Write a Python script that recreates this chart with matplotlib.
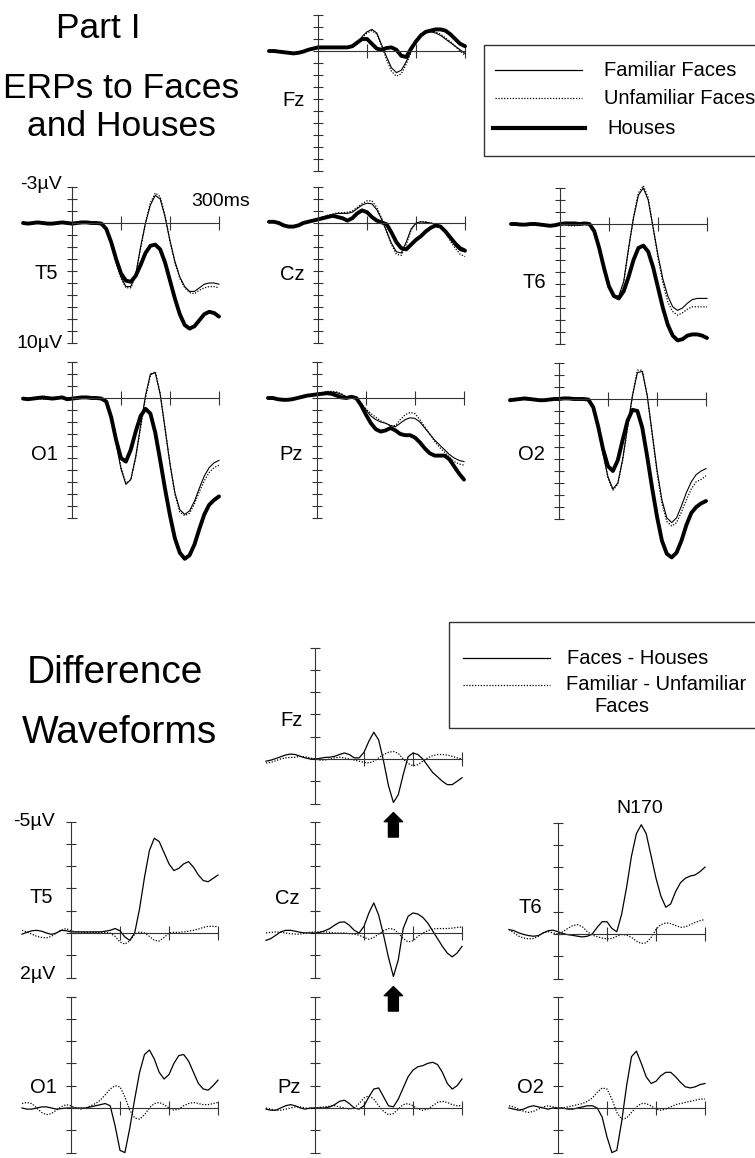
import numpy as np
import matplotlib.pyplot as plt
from matplotlib.patches import Rectangle

plt.rcParams['font.family'] = ['Liberation Sans', 'DejaVu Sans']

# sample times (ms), one value every 10 ms
times = np.arange(-100, 301, 10)

# ---- Part I : ERPs (microvolts, negative up) ----
fz_fam = [0.0, 0.0, 0.05, 0.1, 0.15, 0.15, 0.1, 0.0, -0.1, -0.2, -0.25, -0.25, -0.3, -0.3, -0.3, -0.3, -0.3,
          -0.3, -0.6, -1.2, -1.6, -1.8, -1.5, -0.5, 0.5, 1.4, 1.8, 1.6, 0.9, 0.0, -0.8, -1.3, -1.6, -1.6, -1.5,
          -1.3, -1.0, -0.7, -0.4, -0.1, 0.2]
fz_unf = [0.05, 0.0, 0.05, 0.1, 0.2, 0.15, 0.1, 0.0, -0.1, -0.2, -0.25, -0.3, -0.3, -0.35, -0.3, -0.3, -0.3,
          -0.3, -0.6, -1.1, -1.5, -1.7, -1.4, -0.4, 0.7, 1.7, 2.1, 1.9, 1.1, 0.1, -0.8, -1.4, -1.7, -1.7, -1.6,
          -1.4, -1.1, -0.8, -0.4, 0.0, 0.35]
fz_hou = [0.0, 0.0, 0.05, 0.1, 0.15, 0.2, 0.15, 0.05, -0.1, -0.2, -0.3, -0.3, -0.3, -0.3, -0.3, -0.3, -0.3,
          -0.4, -0.7, -1.0, -1.0, -0.6, -0.2, -0.1, -0.25, -0.3, -0.1, 0.4, 0.5, -0.2, -0.8, -1.3, -1.6, -1.7,
          -1.8, -1.8, -1.7, -1.4, -1.0, -0.6, -0.4]

t5_fam = [0.0, 0.0, 0.05, 0.0, 0.0, 0.0, 0.05, 0.05, 0.0, 0.0, 0.05, 0.0, 0.0, 0.0, 0.05, 0.0, 0.05,
          0.5, 1.7, 3.2, 4.5, 5.3, 5.3, 4.3, 2.0, 0.0, -1.5, -2.3, -2.0, -0.5, 1.5, 3.2, 4.5, 5.3, 5.7, 5.7,
          5.4, 5.1, 5.0, 5.0, 5.1]
t5_unf = [0.05, 0.0, 0.0, 0.05, 0.0, -0.05, 0.0, 0.05, 0.0, 0.05, 0.05, 0.0, 0.05, 0.0, 0.0, 0.05, 0.05,
          0.5, 1.7, 3.3, 4.6, 5.4, 5.4, 4.4, 2.1, 0.0, -1.7, -2.5, -2.2, -0.6, 1.5, 3.3, 4.6, 5.4, 5.8, 5.9,
          5.6, 5.4, 5.3, 5.3, 5.4]
t5_hou = [0.0, 0.05, 0.0, -0.05, 0.0, 0.05, 0.05, 0.0, -0.05, 0.0, 0.05, 0.0, -0.05, -0.05, 0.0, 0.0, 0.05,
          0.5, 1.6, 3.0, 4.2, 4.8, 4.9, 4.4, 3.5, 2.5, 1.9, 1.8, 2.2, 3.3, 4.8, 6.3, 7.6, 8.5, 8.8, 8.6,
          8.1, 7.6, 7.4, 7.5, 7.8]

cz_fam = [-0.1, -0.05, 0.05, 0.2, 0.3, 0.25, 0.15, 0.0, -0.1, -0.2, -0.3, -0.5, -0.6, -0.7, -0.8, -0.8, -0.8,
          -0.9, -1.2, -1.5, -1.65, -1.6, -1.1, -0.3, 0.7, 1.7, 2.4, 2.5, 1.6, 0.5, 0.0, -0.1, -0.05, 0.0, 0.1,
          0.3, 0.7, 1.3, 1.9, 2.3, 2.4]
cz_unf = [-0.05, -0.05, 0.05, 0.2, 0.3, 0.3, 0.2, 0.05, -0.1, -0.2, -0.35, -0.5, -0.65, -0.75, -0.85, -0.85,
          -0.9, -1.0, -1.3, -1.6, -1.85, -1.85, -1.3, -0.4, 0.7, 1.8, 2.6, 2.7, 1.8, 0.6, 0.0, -0.1, -0.1, 0.0,
          0.1, 0.3, 0.8, 1.5, 2.1, 2.6, 2.8]
cz_hou = [-0.1, -0.1, 0.0, 0.2, 0.3, 0.3, 0.2, 0.0, -0.1, -0.2, -0.3, -0.4, -0.5, -0.6, -0.5, -0.4, -0.2,
          -0.4, -0.8, -1.05, -0.9, -0.5, -0.2, -0.05, 0.1, 0.8, 1.6, 2.1, 2.2, 1.8, 1.4, 1.1, 0.7, 0.4, 0.2,
          0.3, 0.7, 1.2, 1.7, 2.1, 2.3]

t6_fam = [0.0, 0.0, 0.0, 0.05, 0.05, 0.0, 0.05, 0.1, 0.1, 0.05, 0.0, 0.05, 0.1, 0.1, 0.05, 0.0, 0.0,
          0.6, 2.0, 3.7, 5.2, 6.0, 6.0, 4.8, 2.0, -0.5, -2.4, -3.0, -2.0, 0.3, 2.6, 4.6, 6.0, 6.9, 7.2, 7.0,
          6.6, 6.3, 6.2, 6.2, 6.2]
t6_unf = [0.05, 0.0, 0.0, 0.0, 0.05, 0.05, 0.1, 0.15, 0.2, 0.15, 0.05, 0.1, 0.15, 0.15, 0.1, 0.05, 0.0,
          0.6, 2.0, 3.7, 5.2, 6.0, 6.1, 4.9, 2.1, -0.6, -2.6, -3.2, -2.2, 0.3, 2.8, 4.9, 6.5, 7.3, 7.6, 7.4,
          7.1, 6.9, 6.9, 6.9, 6.9]
t6_hou = [0.0, 0.0, 0.05, 0.05, 0.0, 0.0, 0.05, 0.1, 0.15, 0.1, 0.0, -0.05, -0.05, -0.05, 0.0, -0.05, 0.0,
          0.6, 2.0, 3.7, 5.2, 6.0, 6.2, 5.6, 4.4, 3.0, 2.0, 1.8, 2.3, 3.6, 5.3, 7.0, 8.4, 9.3, 9.7, 9.6,
          9.3, 9.2, 9.2, 9.3, 9.5]

o1_fam = [0.0, 0.05, 0.0, 0.0, 0.05, 0.1, 0.05, 0.0, 0.0, 0.1, 0.05, 0.0, 0.0, 0.0, 0.05, 0.0, 0.05,
          0.3, 1.7, 3.8, 5.9, 7.2, 6.8, 4.9, 2.3, -0.2, -2.0, -2.1, -0.3, 2.6, 5.5, 7.9, 9.3, 9.7, 9.4, 8.6,
          7.5, 6.5, 5.8, 5.4, 5.2]
o1_unf = [0.0, 0.0, 0.05, 0.05, 0.1, 0.1, 0.05, 0.05, 0.0, 0.05, 0.05, 0.05, 0.0, 0.0, 0.0, 0.05, 0.05,
          0.3, 1.7, 3.7, 5.8, 7.1, 6.8, 5.0, 2.5, 0.0, -1.9, -2.2, -0.4, 2.5, 5.5, 8.0, 9.5, 9.8, 9.6, 8.8,
          7.8, 6.9, 6.2, 5.8, 5.6]
o1_hou = [0.05, 0.1, 0.05, 0.0, -0.05, 0.0, 0.05, 0.0, -0.05, 0.1, 0.05, 0.0, -0.05, -0.05, 0.0, 0.0, 0.05,
          0.3, 1.6, 3.5, 5.0, 5.3, 4.3, 2.8, 1.5, 0.9, 1.3, 2.9, 5.2, 7.6, 9.8, 11.7, 12.9, 13.4, 13.1, 12.2,
          10.9, 9.7, 8.9, 8.5, 8.2]

pz_fam = [0.0, 0.05, 0.1, 0.15, 0.1, 0.05, 0.0, -0.1, -0.2, -0.3, -0.35, -0.4, -0.5, -0.5, -0.45, -0.3, -0.1,
          -0.1, 0.1, 0.5, 1.0, 1.5, 1.8, 2.0, 2.1, 2.3, 2.4, 2.1, 1.8, 1.65, 1.7, 2.0, 2.5, 3.0, 3.5, 3.9,
          4.3, 4.7, 5.0, 5.2, 5.3]
pz_unf = [0.05, 0.05, 0.1, 0.15, 0.15, 0.05, 0.0, -0.1, -0.2, -0.3, -0.4, -0.45, -0.55, -0.55, -0.5, -0.35,
          -0.1, -0.1, 0.1, 0.4, 0.9, 1.3, 1.6, 1.9, 2.1, 2.3, 2.3, 1.8, 1.4, 1.2, 1.3, 1.8, 2.4, 3.0, 3.6,
          4.1, 4.5, 4.9, 5.3, 5.5, 5.6]
pz_hou = [0.0, 0.0, 0.1, 0.15, 0.15, 0.1, 0.0, -0.1, -0.2, -0.25, -0.3, -0.35, -0.4, -0.35, -0.2, -0.05, 0.0,
          -0.1, 0.0, 0.6, 1.4, 2.1, 2.6, 2.8, 2.7, 2.5, 2.7, 3.0, 3.1, 3.1, 3.3, 3.7, 4.2, 4.6, 4.8, 4.8,
          4.8, 5.1, 5.7, 6.3, 6.8]

o2_fam = [0.0, -0.05, 0.0, 0.05, 0.05, 0.05, 0.1, 0.05, 0.0, 0.0, 0.0, -0.05, 0.0, 0.0, 0.05, 0.05, 0.05,
          0.7, 2.4, 4.6, 6.5, 7.5, 7.0, 5.0, 2.3, -0.3, -2.2, -2.3, -0.3, 2.8, 5.9, 8.4, 9.9, 10.3, 9.9, 8.9,
          7.8, 6.9, 6.3, 6.0, 5.8]
o2_unf = [-0.05, 0.0, 0.05, 0.05, 0.1, 0.05, 0.05, 0.05, 0.0, 0.05, 0.0, 0.0, 0.05, 0.05, 0.05, 0.1, 0.1,
          0.7, 2.4, 4.6, 6.6, 7.6, 7.1, 5.1, 2.4, -0.3, -2.4, -2.4, -0.3, 2.9, 6.1, 8.7, 10.2, 10.6, 10.3, 9.4,
          8.4, 7.5, 6.9, 6.7, 6.4]
o2_hou = [0.1, 0.05, 0.0, -0.05, 0.0, 0.05, 0.1, 0.1, 0.05, 0.0, 0.0, -0.05, -0.05, 0.0, 0.0, 0.0, 0.05,
          0.7, 2.3, 4.2, 5.6, 6.0, 5.1, 3.4, 1.8, 0.9, 1.0, 2.4, 4.8, 7.4, 9.8, 11.8, 12.9, 13.2, 12.8, 11.8,
          10.5, 9.5, 9.0, 8.7, 8.5]

# ---- Difference waveforms ----
# fh = faces - houses, fu = familiar - unfamiliar faces
d_fz_fh = [0.1, 0.05, -0.02, -0.1, -0.18, -0.22, -0.2, -0.12, -0.05, 0.0, 0.0, -0.03, -0.07, -0.08, -0.12,
           -0.2, -0.27, -0.2, -0.05, -0.05, -0.3, -0.8, -1.2, -0.85, 0.1, 1.2, 1.95, 1.6, 0.7, -0.1, -0.27,
           -0.2, 0.0, 0.3, 0.6, 0.8, 1.0, 1.15, 1.15, 1.0, 0.84]
d_fz_fu = [0.18, 0.15, 0.08, 0.0, -0.05, -0.07, -0.08, -0.12, -0.1, -0.05, 0.0, 0.05, 0.05, 0.0, -0.05,
           -0.08, -0.05, 0.0, 0.05, 0.1, 0.15, 0.18, 0.1, -0.05, -0.2, -0.3, -0.34, -0.25, 0.0, 0.2, 0.3,
           0.25, 0.1, -0.05, -0.15, -0.2, -0.2, -0.18, -0.12, -0.05, 0.0]
d_t5_fh = [0.05, -0.03, -0.1, -0.12, -0.08, 0.0, 0.06, 0.0, -0.12, -0.1, -0.05, -0.05, -0.05, -0.05, -0.05,
           -0.05, -0.05, -0.08, -0.12, -0.2, -0.1, 0.18, 0.33, 0.0, -1.1, -2.5, -3.7, -4.25, -4.1, -3.6, -3.1,
           -2.8, -2.9, -3.1, -3.2, -2.95, -2.6, -2.35, -2.3, -2.45, -2.6]
d_t5_fu = [-0.12, -0.05, 0.05, 0.15, 0.2, 0.22, 0.15, 0.0, -0.12, -0.2, -0.1, -0.05, -0.03, -0.03, -0.03,
           -0.03, -0.03, -0.03, 0.0, 0.15, 0.4, 0.5, 0.35, 0.05, -0.05, 0.0, 0.15, 0.33, 0.36, 0.2, 0.0,
           -0.03, -0.03, -0.05, -0.08, -0.12, -0.18, -0.25, -0.3, -0.3, -0.28]
d_cz_fh = [0.33, 0.25, 0.1, -0.05, -0.12, -0.12, -0.08, -0.03, 0.0, 0.0, 0.0, -0.03, -0.1, -0.2, -0.35,
           -0.48, -0.5, -0.35, -0.12, 0.0, -0.3, -0.9, -1.35, -0.8, 0.1, 1.1, 1.95, 1.2, -0.2, -0.75, -0.9,
           -0.85, -0.7, -0.45, -0.1, 0.25, 0.6, 0.9, 1.07, 0.9, 0.6]
d_cz_fu = [0.0, -0.03, -0.05, -0.03, 0.0, 0.03, 0.05, 0.05, 0.0, -0.03, -0.05, -0.05, -0.05, -0.03, 0.0,
           0.0, 0.0, 0.03, 0.05, 0.1, 0.2, 0.28, 0.2, 0.05, -0.1, -0.2, -0.18, 0.0, 0.25, 0.4, 0.35, 0.15,
           0.0, -0.1, -0.18, -0.2, -0.2, -0.2, -0.22, -0.25, -0.27]
d_t6_fh = [-0.2, -0.15, -0.05, 0.02, 0.07, 0.1, 0.07, -0.05, -0.15, -0.17, -0.1, -0.02, 0.03, 0.06, 0.1,
           0.13, 0.1, 0.0, -0.3, -0.55, -0.55, -0.25, -0.1, -0.9, -2.1, -3.5, -4.5, -4.9, -4.5, -3.5, -2.5,
           -1.7, -1.2, -1.35, -1.9, -2.3, -2.5, -2.6, -2.65, -2.8, -3.0]
d_t6_fu = [-0.2, -0.05, 0.1, 0.18, 0.22, 0.2, 0.1, -0.05, -0.1, -0.05, 0.0, -0.1, -0.25, -0.38, -0.42,
           -0.32, -0.1, 0.05, 0.12, 0.18, 0.22, 0.2, 0.1, 0.02, 0.05, 0.15, 0.32, 0.42, 0.4, 0.15, -0.2,
           -0.42, -0.5, -0.47, -0.38, -0.3, -0.32, -0.42, -0.52, -0.6, -0.65]
d_o1_fh = [0.0, 0.05, 0.05, 0.0, -0.05, -0.05, 0.0, 0.05, 0.03, 0.0, 0.0, 0.0, 0.0, 0.0, -0.05, -0.1, -0.15,
           -0.2, -0.1, 0.8, 1.9, 2.0, 0.9, -0.4, -1.6, -2.4, -2.6, -2.2, -1.6, -1.3, -1.5, -2.0, -2.35, -2.4,
           -2.1, -1.6, -1.1, -0.85, -0.8, -1.0, -1.25]
d_o1_fu = [-0.2, -0.25, -0.2, 0.0, 0.2, 0.3, 0.25, 0.1, -0.05, -0.15, -0.1, 0.0, 0.05, 0.0, -0.1, -0.2, -0.35,
           -0.6, -0.85, -1.0, -0.95, -0.5, 0.1, 0.45, 0.5, 0.3, 0.0, -0.2, -0.25, -0.15, 0.0, 0.1, 0.05, -0.1,
           -0.2, -0.25, -0.2, -0.15, -0.15, -0.2, -0.25]
d_pz_fh = [0.05, 0.1, 0.1, 0.0, -0.1, -0.15, -0.1, 0.0, 0.05, 0.0, 0.0, 0.0, 0.0, -0.05, -0.15, -0.3, -0.35,
           -0.2, 0.0, 0.05, -0.1, -0.5, -0.85, -0.9, -0.5, -0.1, -0.05, -0.4, -0.9, -1.4, -1.7, -1.85, -1.9,
           -2.0, -2.05, -1.95, -1.6, -1.1, -0.85, -1.0, -1.3]
d_pz_fu = [0.0, 0.05, 0.1, 0.1, 0.05, 0.0, -0.05, -0.05, 0.0, 0.03, 0.0, -0.03, -0.05, -0.08, -0.1, -0.05,
           0.0, 0.05, 0.0, -0.2, -0.45, -0.55, -0.4, -0.1, 0.15, 0.3, 0.25, 0.05, -0.15, -0.2, -0.1, 0.05, 0.1,
           0.05, -0.1, -0.25, -0.3, -0.25, -0.15, -0.1, -0.1]
d_o2_fh = [0.0, 0.05, 0.1, 0.05, -0.05, -0.1, -0.05, 0.0, 0.05, 0.0, 0.0, 0.0, 0.05, 0.05, 0.0, -0.05, -0.1,
           -0.1, 0.0, 0.4, 1.3, 2.0, 1.9, 0.6, -1.0, -2.3, -2.55, -2.0, -1.4, -1.1, -1.2, -1.45, -1.6, -1.6,
           -1.4, -1.15, -0.95, -0.9, -0.95, -1.05, -1.1]
d_o2_fu = [-0.1, -0.05, 0.05, 0.15, 0.2, 0.15, 0.05, -0.05, -0.1, -0.05, 0.0, 0.0, -0.05, -0.1, -0.15, -0.2,
           -0.3, -0.45, -0.7, -0.9, -0.85, -0.4, 0.2, 0.5, 0.45, 0.2, -0.05, -0.2, -0.2, -0.1, 0.05, 0.1, 0.05,
           -0.05, -0.15, -0.2, -0.25, -0.3, -0.35, -0.4, -0.4]

W, H = 755, 1158
fig = plt.figure(figsize=(W / 100, H / 100), dpi=100)

# full-page axes in pixel units for titles and legend boxes
bg = fig.add_axes([0, 0, 1, 1])
bg.set_xlim(0, W)
bg.set_ylim(H, 0)
bg.axis('off')

AX_COL = '#333333'
DOT = (0, (1, 1.3))


def panel(x0, y0, vtop, vbot, pxuv, pxms=0.49):
    # x0, y0: pixel position of (0 ms, 0 uV); negative voltage up
    left = x0 - 100 * pxms
    top = y0 + vtop * pxuv
    bot = y0 + vbot * pxuv
    ax = fig.add_axes([left / W, 1 - bot / H, 400 * pxms / W, (bot - top) / H])
    ax.set_xlim(-100, 300)
    ax.set_ylim(vbot, vtop)
    ax.patch.set_visible(False)
    ax.spines['top'].set_visible(False)
    ax.spines['right'].set_visible(False)
    ax.spines['left'].set_position(('data', 0))
    ax.spines['bottom'].set_position(('data', 0))
    ax.spines['bottom'].set_bounds(0, 300)
    for s in ['left', 'bottom']:
        ax.spines[s].set_linewidth(0.8)
        ax.spines[s].set_color(AX_COL)
    ax.set_xticks([100, 200, 300])
    ax.set_yticks(range(vtop, vbot + 1))
    ax.tick_params(axis='x', direction='inout', length=9.5, width=0.8, color=AX_COL, labelbottom=False)
    ax.tick_params(axis='y', direction='inout', length=6.5, width=0.8, color=AX_COL, labelleft=False)
    return ax


# Part I panels: name, x0, y0, familiar, unfamiliar, houses, label height
top_panels = [
    ('Fz', 318, 51, fz_fam, fz_unf, fz_hou, 4.1),
    ('T5', 72, 223, t5_fam, t5_unf, t5_hou, 4.2),
    ('Cz', 318, 223, cz_fam, cz_unf, cz_hou, 4.3),
    ('T6', 560, 224, t6_fam, t6_unf, t6_hou, 4.9),
    ('O1', 72, 398, o1_fam, o1_unf, o1_hou, 4.75),
    ('Pz', 317, 398, pz_fam, pz_unf, pz_hou, 4.75),
    ('O2', 559, 399, o2_fam, o2_unf, o2_hou, 4.6),
]
top_axes = {}
for name, x0, y0, fam, unf, hou, lv in top_panels:
    ax = panel(x0, y0, -3, 10, 12)
    ax.plot(times, hou, color='black', lw=2.8, clip_on=False, solid_capstyle='round')
    ax.plot(times, fam, color='black', lw=0.8, clip_on=False)
    ax.plot(times, unf, color='black', lw=0.9, ls=DOT, clip_on=False)
    ax.text(-28, lv, name, fontsize=14.5, ha='right', va='center')
    top_axes[name] = ax

top_axes['T5'].text(-20, -3.2, '-3\u00b5V', fontsize=14, ha='right', va='center')
top_axes['T5'].text(-20, 10, '10\u00b5V', fontsize=14, ha='right', va='center')
top_axes['T5'].text(303, -1.75, '300ms', fontsize=14, ha='center', va='center')

# Difference panels: name, x0, y0, faces-houses, familiar-unfamiliar, label height, label offset
bot_panels = [
    ('Fz', 315, 759, d_fz_fh, d_fz_fu, -1.73, 25),
    ('T5', 71, 933, d_t5_fh, d_t5_fu, -1.6, 37),
    ('Cz', 315, 933, d_cz_fh, d_cz_fu, -1.55, 31),
    ('T6', 558, 934, d_t6_fh, d_t6_fu, -1.2, 33),
    ('O1', 71, 1108, d_o1_fh, d_o1_fu, -0.9, 28),
    ('Pz', 315, 1108, d_pz_fh, d_pz_fu, -0.9, 28),
    ('O2', 558, 1108, d_o2_fh, d_o2_fu, -0.9, 28),
]
bot_axes = {}
for name, x0, y0, fh, fu, lv, off in bot_panels:
    ax = panel(x0, y0, -5, 2, 22.3)
    ax.plot(times, fh, color='black', lw=0.9, clip_on=False)
    ax.plot(times, fu, color='black', lw=0.9, ls=DOT, clip_on=False)
    ax.text(-off, lv, name, fontsize=14.5, ha='right', va='center')
    bot_axes[name] = ax

bot_axes['T5'].text(-33, -5, '-5\u00b5V', fontsize=14, ha='right', va='center')
bot_axes['T5'].text(-33, 1.85, '2\u00b5V', fontsize=14, ha='right', va='center')
bot_axes['T6'].text(167, -5.65, 'N170', fontsize=14, ha='center', va='center')

arrow = dict(arrowstyle='simple,head_length=0.6,head_width=1.2,tail_width=0.65',
             fc='black', ec='black', shrinkA=0, shrinkB=0, mutation_scale=11)
for name in ['Fz', 'Cz']:
    bot_axes[name].annotate('', xy=(160, 2.4), xytext=(160, 3.5), arrowprops=arrow,
                            annotation_clip=False)

# titles
bg.text(98, 28, 'Part I', fontsize=25.5, ha='center', va='center')
bg.text(121, 88, 'ERPs to Faces', fontsize=25.5, ha='center', va='center')
bg.text(121, 127, 'and Houses', fontsize=25.5, ha='center', va='center')
bg.text(115, 673, 'Difference', fontsize=28, ha='center', va='center')
bg.text(119, 733, 'Waveforms', fontsize=28, ha='center', va='center')

# legend, Part I
bg.add_patch(Rectangle((484, 45), 300, 111, fill=False, lw=1.0, ec=AX_COL))
bg.plot([495, 582], [70, 70], color='black', lw=0.9)
bg.plot([495, 582], [98, 98], color='black', lw=0.9, ls=DOT)
bg.plot([493, 585], [128, 128], color='black', lw=3)
bg.text(604, 70, 'Familiar Faces', fontsize=14.5, va='center')
bg.text(604, 98, 'Unfamiliar Faces', fontsize=14.5, va='center')
bg.text(607, 129, 'Houses', fontsize=14.5, va='center')

# legend, difference waveforms
bg.add_patch(Rectangle((449, 622), 330, 106, fill=False, lw=1.0, ec=AX_COL))
bg.plot([463, 550], [658, 658], color='black', lw=0.9)
bg.plot([463, 550], [685, 685], color='black', lw=0.9, ls=DOT)
bg.text(567, 658, 'Faces - Houses', fontsize=14.5, va='center')
bg.text(566, 685, 'Familiar - Unfamiliar', fontsize=14.5, va='center')
bg.text(622, 707, 'Faces', fontsize=14.5, ha='center', va='center')

fig.savefig('out.png', dpi=100)
